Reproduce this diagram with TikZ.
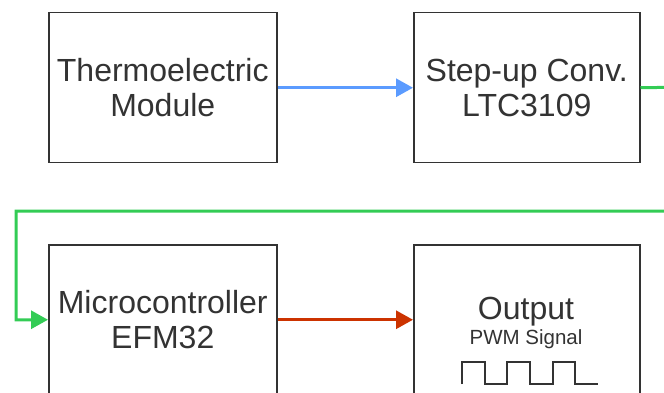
\documentclass[tikz,border=0pt]{standalone}
\usepackage{fontspec}
\setmainfont{Liberation Sans}
\usetikzlibrary{arrows.meta}
\definecolor{boxgray}{HTML}{333333}
\definecolor{arrblue}{HTML}{5B9BFF}
\definecolor{arrgreen}{HTML}{33CC55}
\definecolor{arrred}{HTML}{CC3300}
\begin{document}
\begin{tikzpicture}[x=1pt,y=-1pt,
  blockbox/.style={draw=boxgray, line width=1.5pt, fill=white, minimum width=228pt,
    minimum height=150pt, inner sep=0pt, anchor=north west, text=boxgray,
    align=center, font=\fontsize{32}{34.5}\selectfont},
  smalltxt/.style={text=boxgray, inner sep=0pt, anchor=base},
  conn/.style={line width=3pt, -{Triangle[length=17pt,width=18pt]}}]
\useasboundingbox (0,0) rectangle (664,393);
\clip (0,0) rectangle (664,393);
\node[blockbox] (tem) at (48,12) {Thermoelectric\\Module};
\node[blockbox, minimum width=226pt] (step) at (413,12) {Step-up Conv.\\LTC3109};
\node[blockbox] (mcu) at (48,244) {Microcontroller\\EFM32};
\node[blockbox, minimum width=226pt] (outbox) at (413,244) {};
\node[smalltxt, font=\fontsize{32}{34}\selectfont] (outtitle) at (526,319) {Output};
\node[smalltxt, font=\fontsize{20.5}{22}\selectfont] (pwmlabel) at (526,344) {PWM Signal};
\draw[boxgray, line width=1.6pt] (462,384) -- (462,362) -- (485,362) -- (485,384) -- (507,384)
  -- (507,362) -- (530,362) -- (530,384) -- (553,384) -- (553,362) -- (575,362) -- (575,384)
  -- (598,384);
\coordinate (loopright) at (690,87);
\coordinate (loopleft) at (16,211);
\draw[conn, arrblue] (tem) -- (step);
\draw[conn, arrgreen] (step.east) -- (loopright) |- (loopleft) |- (mcu.west);
\draw[conn, arrred] (mcu) -- (outbox.west |- mcu.west);
\end{tikzpicture}
\end{document}
